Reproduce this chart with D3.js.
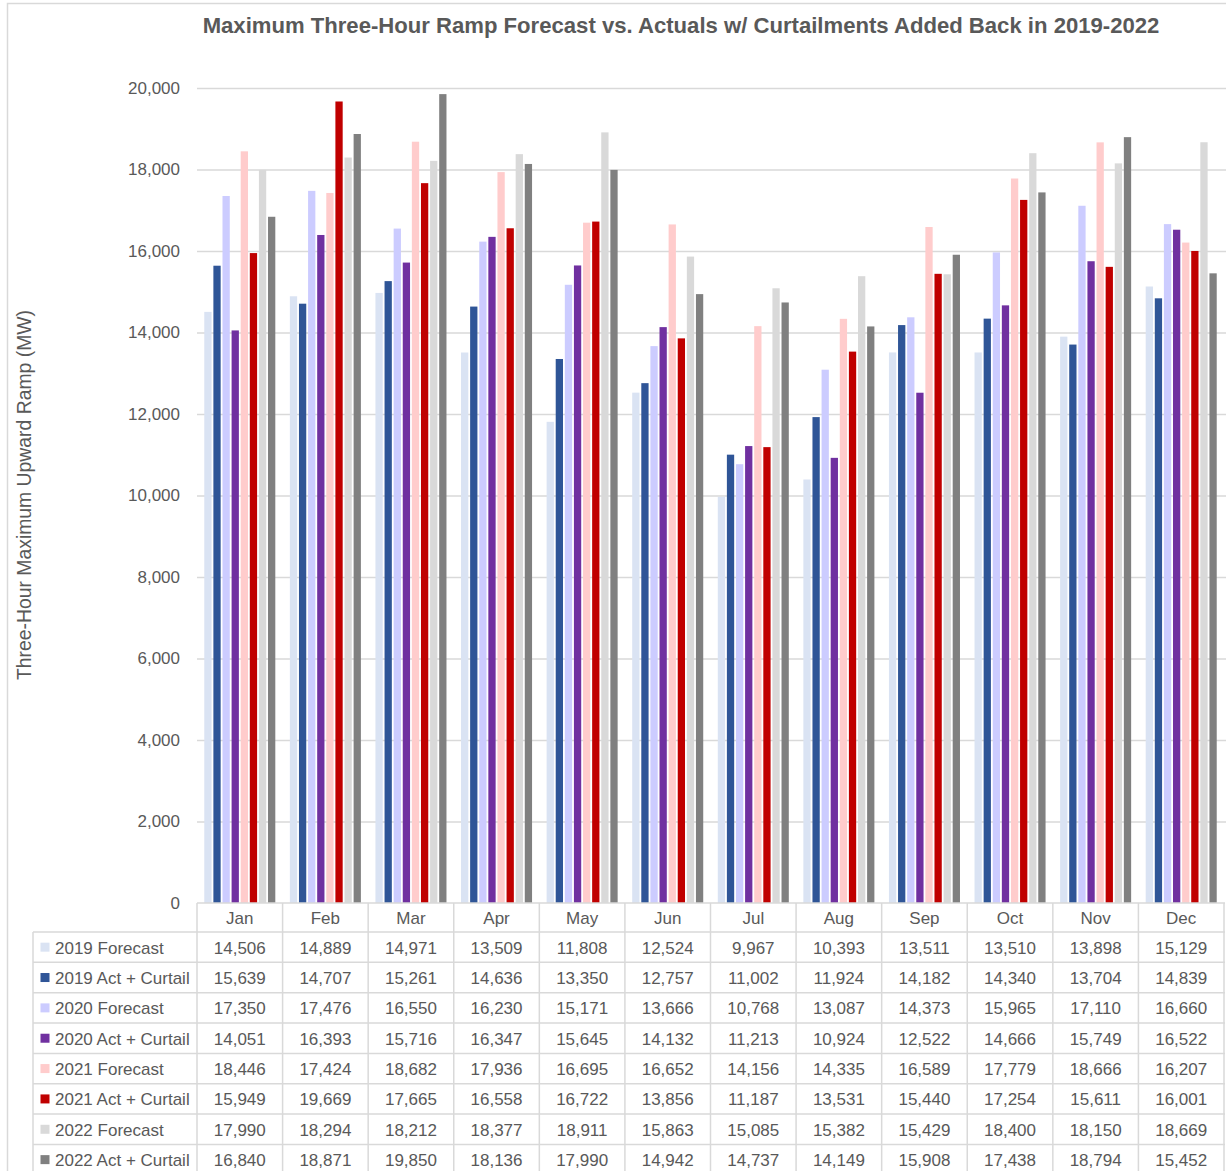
<!DOCTYPE html>
<html lang="en">
<head>
  <meta charset="UTF-8">
  <title>Maximum Three-Hour Ramp</title>
  <script src="https://d3js.org/d3.v7.min.js"></script>
  <style>
    html, body { margin: 0; padding: 0; background: #fff; }
    svg { display: block; font-family: 'Liberation Sans', Arial, sans-serif; }
  </style>
</head>
<body>
  <div id="chart"></div>
  <script>
    // data
    var months = ["Jan", "Feb", "Mar", "Apr", "May", "Jun", "Jul", "Aug", "Sep", "Oct", "Nov", "Dec"];
    var seriesNames = ["2019 Forecast", "2019 Act + Curtail", "2020 Forecast", "2020 Act + Curtail",
                       "2021 Forecast", "2021 Act + Curtail", "2022 Forecast", "2022 Act + Curtail"];
    var fc2019  = [14506, 14889, 14971, 13509, 11808, 12524, 9967, 10393, 13511, 13510, 13898, 15129];
    var act2019 = [15639, 14707, 15261, 14636, 13350, 12757, 11002, 11924, 14182, 14340, 13704, 14839];
    var fc2020  = [17350, 17476, 16550, 16230, 15171, 13666, 10768, 13087, 14373, 15965, 17110, 16660];
    var act2020 = [14051, 16393, 15716, 16347, 15645, 14132, 11213, 10924, 12522, 14666, 15749, 16522];
    var fc2021  = [18446, 17424, 18682, 17936, 16695, 16652, 14156, 14335, 16589, 17779, 18666, 16207];
    var act2021 = [15949, 19669, 17665, 16558, 16722, 13856, 11187, 13531, 15440, 17254, 15611, 16001];
    var fc2022  = [17990, 18294, 18212, 18377, 18911, 15863, 15085, 15382, 15429, 18400, 18150, 18669];
    var act2022 = [16840, 18871, 19850, 18136, 17990, 14942, 14737, 14149, 15908, 17438, 18794, 15452];
    var yTicks  = [0, 2000, 4000, 6000, 8000, 10000, 12000, 14000, 16000, 18000, 20000];

    var values = [fc2019, act2019, fc2020, act2020, fc2021, act2021, fc2022, act2022];
    var colors = ["#dae3f3", "#2f5597", "#ccccff", "#7030a0", "#ffcccc", "#c00000", "#d9d9d9", "#808080"];

    var width = 1226, height = 1171,
        plot = { left: 197, right: 1224, top: 88, bottom: 903 },
        tableLeft = 33, headH = 29, rowH = 30.35,
        textColor = "#595959", lineColor = "#d9d9d9";

    var fmt = d3.format(",");

    var svg = d3.select("#chart").append("svg")
      .attr("width", width)
      .attr("height", height);

    // outer chart border
    svg.append("rect")
      .attr("x", 7.5).attr("y", 3.5)
      .attr("width", width + 10).attr("height", height + 10)
      .attr("fill", "none").attr("stroke", lineColor).attr("stroke-width", 1.5);

    var x0 = d3.scaleBand().domain(months).range([plot.left, plot.right])
      .paddingInner(0.17).paddingOuter(0.085);
    var x1 = d3.scaleBand().domain(d3.range(seriesNames.length)).range([0, x0.bandwidth()])
      .paddingInner(0.2);
    var y = d3.scaleLinear().domain([0, 20000]).range([plot.bottom, plot.top]);

    // gridlines + tick labels
    var yAxis = svg.append("g")
      .attr("transform", "translate(" + plot.left + ",0)")
      .call(d3.axisLeft(y).tickValues(yTicks).tickFormat(fmt).tickSize(-(width - plot.left)).tickPadding(17));
    yAxis.select(".domain").remove();
    yAxis.selectAll(".tick line").attr("stroke", lineColor).attr("stroke-width", 1.5)
      .filter(function(d) { return d === 0; }).remove();
    yAxis.selectAll(".tick text").attr("fill", textColor).attr("font-size", "17px");

    // bars
    var groups = svg.append("g").selectAll("g")
      .data(months)
      .join("g")
      .attr("transform", function(m) { return "translate(" + x0(m) + ",0)"; });

    groups.selectAll("rect")
      .data(function(m, i) { return values.map(function(v, s) { return { s: s, v: v[i] }; }); })
      .join("rect")
      .attr("x", function(d) { return x1(d.s); })
      .attr("width", x1.bandwidth())
      .attr("y", function(d) { return y(d.v); })
      .attr("height", function(d) { return y(0) - y(d.v); })
      .attr("fill", function(d) { return colors[d.s]; });

    // data table
    var step = x0.step();
    var edges = d3.range(months.length + 1).map(function(i) { return plot.left + i * step; });
    var tbl = svg.append("g").attr("stroke", lineColor).attr("stroke-width", 1.5);
    var rowsTop = plot.bottom + headH;
    var rowsBottom = rowsTop + rowH * seriesNames.length;

    tbl.append("line").attr("x1", plot.left).attr("x2", plot.right + 1)
      .attr("y1", plot.bottom).attr("y2", plot.bottom);
    d3.range(seriesNames.length + 1).forEach(function(r) {
      tbl.append("line").attr("x1", tableLeft).attr("x2", plot.right + 1)
        .attr("y1", rowsTop + r * rowH).attr("y2", rowsTop + r * rowH);
    });
    tbl.selectAll(".v").data(edges).join("line")
      .attr("x1", function(d) { return d; }).attr("x2", function(d) { return d; })
      .attr("y1", plot.bottom).attr("y2", rowsBottom);
    tbl.append("line").attr("x1", tableLeft).attr("x2", tableLeft)
      .attr("y1", rowsTop).attr("y2", rowsBottom);

    svg.append("g").selectAll("text")
      .data(months)
      .join("text")
      .attr("x", function(m) { return x0(m) + x0.bandwidth() / 2; })
      .attr("y", plot.bottom + headH / 2 + 1)
      .attr("text-anchor", "middle")
      .attr("dominant-baseline", "central")
      .attr("fill", textColor)
      .attr("font-size", "17px")
      .text(function(m) { return m; });

    var rows = svg.append("g").selectAll("g")
      .data(seriesNames)
      .join("g")
      .attr("transform", function(n, r) { return "translate(0," + (rowsTop + r * rowH + rowH / 2) + ")"; });

    rows.append("rect")
      .attr("x", 40.5).attr("y", -4.5).attr("width", 9).attr("height", 9)
      .attr("fill", function(n, r) { return colors[r]; });
    rows.append("text")
      .attr("x", 55).attr("y", 1)
      .attr("dominant-baseline", "central")
      .attr("fill", textColor).attr("font-size", "17px")
      .text(function(n) { return n; });
    rows.selectAll(".val")
      .data(function(n, r) { return values[r]; })
      .join("text")
      .attr("class", "val")
      .attr("x", function(v, i) { return x0(months[i]) + x0.bandwidth() / 2; })
      .attr("y", 1)
      .attr("text-anchor", "middle")
      .attr("dominant-baseline", "central")
      .attr("fill", textColor).attr("font-size", "17px")
      .text(function(v) { return fmt(v); });

    // title, fitted to the width it has in the reference
    var title = svg.append("text")
      .attr("x", 681).attr("y", 33)
      .attr("text-anchor", "middle")
      .attr("font-weight", "bold")
      .attr("font-size", "20px")
      .attr("fill", textColor)
      .text("Maximum Three-Hour Ramp Forecast vs. Actuals w/ Curtailments Added Back in 2019-2022");
    var tw = title.node().getComputedTextLength();
    title.attr("font-size", (20 * 957 / tw).toFixed(2) + "px");

    // y axis title
    var ylab = svg.append("text")
      .attr("transform", "translate(31,495) rotate(-90)")
      .attr("text-anchor", "middle")
      .attr("fill", textColor)
      .attr("font-size", "17px")
      .text("Three-Hour Maximum Upward Ramp (MW)");
    var lw = ylab.node().getComputedTextLength();
    ylab.attr("font-size", (17 * 370 / lw).toFixed(2) + "px");
  </script>
</body>
</html>
